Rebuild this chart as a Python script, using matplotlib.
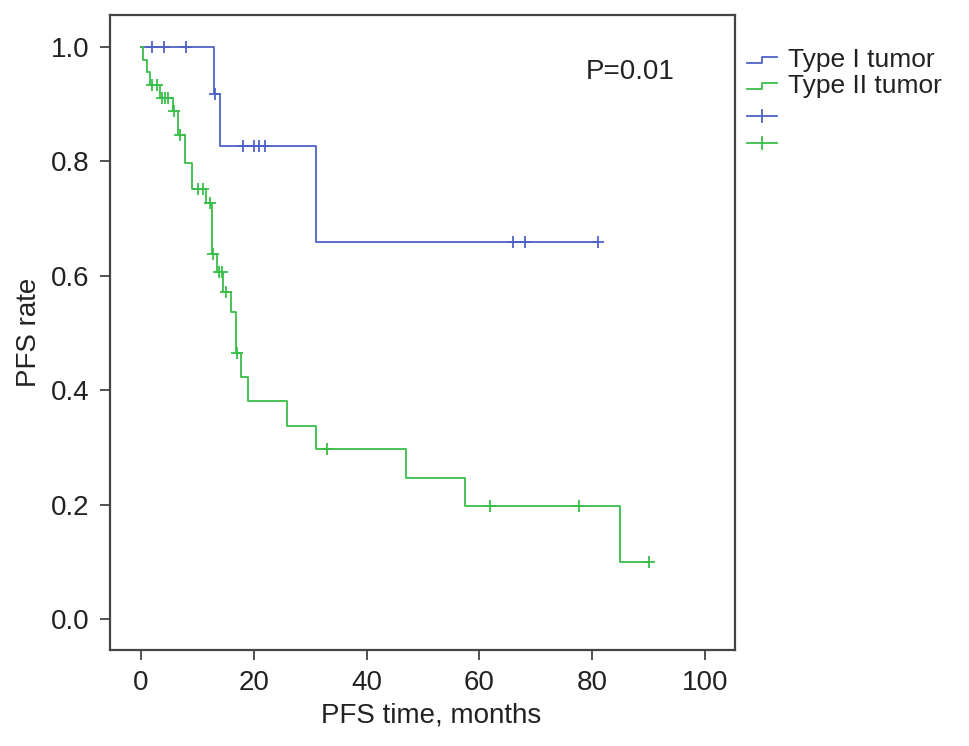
import numpy as np
import matplotlib
matplotlib.use("Agg")
import matplotlib.pyplot as plt
from matplotlib.lines import Line2D

plt.rcParams['font.family'] = ['Liberation Sans', 'DejaVu Sans']

# Type I tumor: drop times and survival after each drop
t1_times = [0, 12.9, 14.0, 31.0]
t1_surv = [1.0, 0.918, 0.827, 0.660]
t1_end = 81.0
t1_cens = [2.0, 4.0, 8.0, 13.2, 18.0, 20.0, 21.0, 22.0, 66.0, 68.0, 81.0]

# Type II tumor
t2_times = [0, 0.3, 1.0, 1.6, 3.4, 5.6, 6.5, 7.8, 9.0, 11.6, 12.5, 13.5,
            14.6, 16.0, 16.8, 17.8, 19.0, 25.8, 31.0, 46.9, 57.5, 85.0]
t2_surv = [1.0, 0.978, 0.956, 0.933, 0.911, 0.889, 0.846, 0.797, 0.752, 0.727,
           0.638, 0.607, 0.572, 0.537, 0.466, 0.424, 0.381, 0.337, 0.297,
           0.247, 0.198, 0.099]
t2_end = 90.0
t2_cens = [2.0, 2.8, 3.7, 4.2, 4.8, 5.9, 6.9, 10.1, 10.9, 12.2, 12.8, 13.8,
           14.3, 15.0, 17.0, 32.9, 61.8, 77.7, 90.0]

blue = '#4f62c4'
green = '#38be48'
fs = 20


def surv_at(times, surv, t):
    idx = np.searchsorted(times, t, side='right') - 1
    return np.array(surv)[idx]


fig = plt.figure(figsize=(9.69, 7.46), dpi=100)
ax = fig.add_axes([110 / 969, 1 - 650 / 746, 625 / 969, 635 / 746])

for times, surv, end, cens, col in [(t1_times, t1_surv, t1_end, t1_cens, blue),
                                    (t2_times, t2_surv, t2_end, t2_cens, green)]:
    xs = list(times) + [end]
    ys = list(surv) + [surv[-1]]
    ax.step(xs, ys, where='post', color=col, lw=1.3)
    ax.plot(cens, surv_at(times, surv, cens), '+', color=col, ms=8, mew=1.3)

ax.set_xlim(-5.5, 105.3)
ax.set_ylim(-0.054, 1.056)
ax.set_xticks(np.arange(0, 101, 20))
ax.set_yticks(np.arange(0, 1.01, 0.2))
ax.set_yticklabels([f'{v:.1f}' for v in np.arange(0, 1.01, 0.2)])
ax.tick_params(direction='out', length=7.5, width=1.2, color='#333333',
               labelsize=fs, pad=7, labelcolor='#222222')
for s in ax.spines.values():
    s.set_color('#444444')
    s.set_linewidth(1.6)

ax.set_xlabel('PFS time, months', fontsize=fs, color='#222222')
ax.set_ylabel('PFS rate', fontsize=fs, color='#222222')
ax.xaxis.set_label_coords(0.514, -0.082)
ax.yaxis.set_label_coords(-0.108, 0.5)
ax.text(78.9, 0.956, 'P=0.01', fontsize=fs, ha='left', va='center', color='#222222')

# legend drawn by hand, outside the plot box
lx0, lx1, tx = 747, 777, 788
rows = [(60, blue, 'Type I tumor', 'step'), (86, green, 'Type II tumor', 'step'),
        (116, blue, '', 'cens'), (143, green, '', 'cens')]
for y, col, lab, kind in rows:
    fy = 1 - y / 746
    if kind == 'step':
        xs = np.array([lx0, 762, 762, lx1]) / 969
        ys = 1 - np.array([y + 3, y + 3, y - 3, y - 3]) / 746
        fig.add_artist(Line2D(xs, ys, color=col, lw=1.3))
    else:
        fig.add_artist(Line2D([lx0 / 969, lx1 / 969], [fy, fy], color=col, lw=1.3))
        fig.add_artist(Line2D([762 / 969, 762 / 969], [fy - 6 / 746, fy + 6 / 746],
                              color=col, lw=1.3))
    if lab:
        fig.text(tx / 969, fy, lab, fontsize=19, ha='left', va='center', color='#222222')

fig.savefig('out.png', dpi=100)
